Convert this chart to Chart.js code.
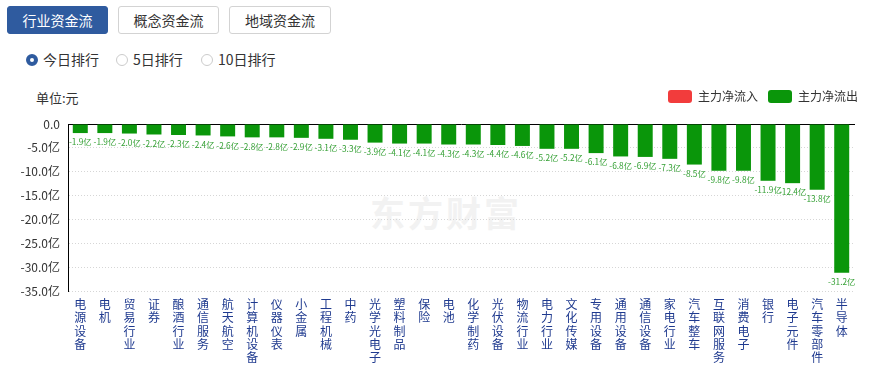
<!DOCTYPE html>
<html><head><meta charset="utf-8">
<script src="https://cdn.jsdelivr.net/npm/chart.js@4/dist/chart.umd.min.js"></script>
<style>
body{margin:0;width:869px;height:366px;background:#fff;font-family:"Noto Sans CJK SC",sans-serif;position:relative;overflow:hidden}
.btn{position:absolute;top:6px;height:28px;box-sizing:border-box;border:1px solid #d3d3d3;border-radius:3px;font-size:14px;line-height:26px;text-align:center;color:#333;background:#fff}
.btn.on{background:#2f5b9f;border-color:#2f5b9f;color:#fff}
.radio{position:absolute;top:52px;height:16px;font-size:14px;line-height:16px;color:#333}
.radio i{position:absolute;left:0;top:2px;width:12px;height:12px;box-sizing:border-box;border:1px solid #ccc;border-radius:50%;background:#fff}
.radio.on i{border:4px solid #2f5b9f}
.radio span{position:absolute;left:17px;top:-1px;white-space:nowrap}
#unit{position:absolute;left:36px;top:88px;font-size:13px;color:#333}
#wm{position:absolute;left:370px;top:186px;font-size:35px;font-weight:bold;color:#f2f2f2;letter-spacing:3px;white-space:nowrap}
#wrap{position:absolute;left:0;top:80px;width:869px;height:286px}
</style></head>
<body>
<div class="btn on" style="left:7px;width:101px">行业资金流</div>
<div class="btn" style="left:118px;width:101px">概念资金流</div>
<div class="btn" style="left:229px;width:102px">地域资金流</div>
<div class="radio on" style="left:26px"><i></i><span>今日排行</span></div>
<div class="radio" style="left:116px"><i></i><span>5日排行</span></div>
<div class="radio" style="left:201px"><i></i><span>10日排行</span></div>
<div id="unit">单位:元</div>
<div id="wm">东方财富</div>
<div id="wrap"><canvas id="c" width="869" height="286"></canvas></div>
<script>
const categories = ["电源设备","电机","贸易行业","证券","酿酒行业","通信服务","航天航空","计算机设备","仪器仪表","小金属","工程机械","中药","光学光电子","塑料制品","保险","电池","化学制药","光伏设备","物流行业","电力行业","文化传媒","专用设备","通用设备","通信设备","家电行业","汽车整车","互联网服务","消费电子","银行","电子元件","汽车零部件","半导体"];
const outflow = [-1.9,-1.9,-2.0,-2.2,-2.3,-2.4,-2.6,-2.8,-2.8,-2.9,-3.1,-3.3,-3.9,-4.1,-4.1,-4.3,-4.3,-4.4,-4.6,-5.2,-5.2,-6.1,-6.8,-6.9,-7.3,-8.5,-9.8,-9.8,-11.9,-12.4,-13.8,-31.2];
const inflow = [];
const yMin = -35, yMax = 0, yStep = 5;
const seriesNames = ["主力净流入","主力净流出"];

const legendHeight = {
  id:'legendHeight',
  beforeInit(chart){
    const lg = chart.legend;
    const fit = lg.fit;
    lg.fit = function(){ fit.call(this); this.height = 44; };
  }
};
const valueLabels = {
  id:'valueLabels',
  afterDatasetsDraw(chart){
    const meta = chart.getDatasetMeta(1);
    const ctx = chart.ctx;
    ctx.save();
    ctx.font = '8.3px "Noto Sans CJK SC"';
    ctx.fillStyle = '#35a035';
    ctx.textAlign = 'center';
    ctx.textBaseline = 'middle';
    meta.data.forEach((bar,i)=>{ ctx.fillText(outflow[i].toFixed(1)+'亿', bar.x, bar.y+9); });
    ctx.restore();
  }
};

new Chart(document.getElementById('c'), {
  type:'bar',
  data:{
    labels: categories.map(s=>s.split('')),
    datasets:[
      {label:seriesNames[0], data:inflow, backgroundColor:'#f23c3c'},
      {label:seriesNames[1], data:outflow, backgroundColor:'#0a960a'}
    ]
  },
  options:{
    responsive:false,
    animation:false,
    layout:{padding:{left:0,right:1,top:0,bottom:0}},
    datasets:{bar:{categoryPercentage:1, barPercentage:0.61}},
    plugins:{
      tooltip:{enabled:false},
      legend:{position:'top', align:'end',
        labels:{boxWidth:24, boxHeight:13, useBorderRadius:true, borderRadius:3, padding:10, color:'#333', font:{size:12, family:'"Noto Sans CJK SC"'}}}
    },
    scales:{
      x:{type:'category', stacked:true, offset:true,
        grid:{display:false, drawTicks:false}, border:{display:false},
        ticks:{autoSkip:false, maxRotation:0, minRotation:0, padding:7, color:'#1f3a8f',
          font:{size:12, lineHeight:1.1, family:'"Noto Sans CJK SC"'}},
        afterFit(s){ s.height = 75; }},
      xTop:{type:'category', position:'top', grid:{display:false, drawTicks:false},
        ticks:{display:false}, border:{display:true, color:'#000', width:1},
        afterFit(s){ s.height = 0; }},
      y:{stacked:true, min:yMin, max:yMax,
        ticks:{stepSize:yStep, padding:8, color:'#333', font:{size:12, family:'"Noto Sans CJK SC"'},
          callback:v=> v===0 ? '0.0' : v.toFixed(1)+'亿'},
        grid:{color:'#d6d6d6', drawTicks:false},
        border:{color:'#000', width:1, dash:[1,2]},
        afterFit(s){ s.width = 68; }},
      yR:{type:'linear', position:'right', grid:{display:false, drawTicks:false},
        ticks:{display:false}, border:{display:false},
        afterFit(s){ s.width = 14; }}
    }
  },
  plugins:[legendHeight, valueLabels]
});
</script>
</body></html>
